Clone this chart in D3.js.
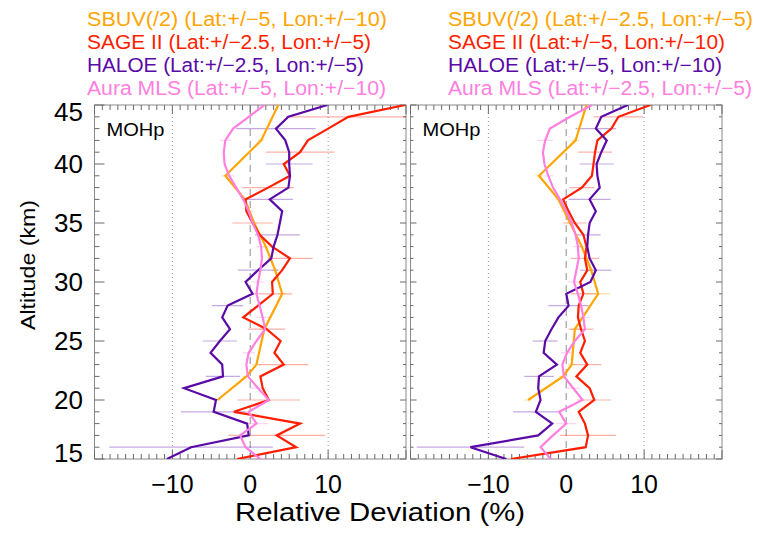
<!DOCTYPE html>
<meta charset="utf-8">
<head>
  <style>
    body { margin: 0; background: #fff; }
    text { font-family: "Liberation Sans", Arial, sans-serif; }
  </style>
  <script src="https://d3js.org/d3.v7.min.js"></script>
</head>
<body>
<div id="chart"></div>
<script>
// altitude grid (km) used by SAGE II, HALOE and Aura MLS
const altKm = [45, 44, 43, 42, 41, 40, 39, 38, 37, 36, 35, 34, 33, 32, 31, 30,
               29, 28, 27, 26, 25, 24, 23, 22, 21, 20, 19, 18, 17, 16, 15];
// SBUV(/2) levels
const sbuvAlt = [45, 42, 39, 37, 35, 33, 31, 29, 26, 23, 22, 20];

// left panel
const sbuvL = [3.6, 1.4, -3.2, -0.7, 0.5, 2.0, 3.2, 4.1, 1.8, 0.8, -0.5, -4.2];
const sageL = [19.9, 12.6, 10.0, 7.4, 6.4, 4.3, 5.1, 2.3, -0.6, -0.5, 0.3, 1.2, 2.8, 5.1, 4.1, 2.8,
               2.9, 1.0, -0.9, 2.1, 3.9, 3.1, 4.3, 1.3, 1.6, 2.4, -2.1, 6.4, 3.4, 5.9, -1.7];
const haloeL = [9.9, 4.9, 3.3, 4.5, 5.0, 5.0, 5.1, 4.9, 2.5, 4.1, 3.8, 3.5, 3.0, 2.7, 1.0, -0.6,
                0.3, -2.9, -3.6, -2.6, -3.9, -5.1, -3.6, -3.5, -8.5, -4.4, -4.7, -0.4, -0.2, -7.6, -10.7];
const mlsL = [1.8, -0.2, -2.2, -3.2, -3.4, -3.3, -2.7, -1.8, -0.9, -0.2, 0.3, 1.0, 1.4, 1.5, 1.3, 1.0,
              0.8, 1.2, 1.6, 1.9, 0.8, -0.2, -0.5, -0.3, 1.0, 2.4, -0.2, 0.8, -1.3, -0.6, 1.3];

// right panel
const sbuvR = [2.6, 1.2, -3.5, -1.0, 0.5, 2.0, 3.2, 4.1, 1.1, 0.7, -0.4, -4.9];
const sageR = [10.8, 6.7, 5.8, 4.0, 3.7, 3.5, 3.3, 2.0, -0.4, 0.3, 1.1, 2.2, 2.6, 2.4, 2.7, 1.8,
               2.2, 1.6, 1.5, 1.9, 2.4, 1.8, 2.7, 1.3, 3.0, 3.6, 1.6, 2.4, 2.8, 2.5, -7.1];
const haloeR = [7.9, 4.5, 3.8, 5.2, 4.5, 3.9, 4.0, 4.3, 3.0, 3.8, 3.0, 2.8, 2.7, 3.0, 3.8, 3.1,
                0.0, 0.3, -1.0, -1.9, -2.7, -2.9, -1.2, -3.5, -3.6, -3.3, -3.9, -1.8, -3.6, -12.3, -7.7];
const mlsR = [3.3, 0.5, -2.1, -2.7, -3.0, -2.8, -2.3, -1.7, -0.8, 0.0, 0.7, 1.2, 1.5, 1.6, 1.3, 1.0,
              1.5, 1.9, 2.2, 2.4, 1.1, 0.1, -0.5, -0.3, 0.9, 2.1, -0.9, 0.0, -1.7, -3.3, -2.0];

// error bars: altitudes and half widths (%)
const errAltSage = [44, 41, 38, 35, 32, 29, 26, 23, 20, 17];
const errSageL = [8.0, 4.4, 3.3, 2.6, 2.9, 2.5, 2.4, 3.2, 4.0, 6.2];
const errSageR = [3.2, 2.2, 1.6, 1.5, 1.8, 1.6, 1.6, 1.8, 2.2, 3.6];
const errAltHaloe = [43, 40, 37, 34, 31, 28, 25, 22, 19, 16];
const errHaloeL = [5.1, 3.0, 3.0, 2.9, 2.6, 2.0, 2.2, 2.2, 4.2, 10.5];
const errHaloeR = [2.6, 2.2, 2.7, 1.6, 2.0, 2.6, 1.6, 1.9, 2.9, 6.9];
const errAltMls = [45, 42, 39, 36, 33, 30, 27, 24, 21, 18, 15];
const errMlsL = [1.5, 0.7, 0.6, 0.5, 0.6, 0.8, 0.8, 0.8, 1.0, 1.5, 1.6];
const errMlsR = [1.8, 1.0, 0.6, 0.6, 0.6, 0.8, 0.8, 0.8, 1.0, 1.3, 2.5];
const errSbuvL = [0.4, 0.4, 0.5, 0.4, 0.4, 0.4, 0.4, 0.5, 0.5, 0.5, 0.5, 0.5];
const errSbuvR = [0.5, 0.5, 0.5, 0.4, 0.4, 0.4, 0.5, 1.6, 0.5, 0.5, 0.5, 0.5];

const legendL = ["SBUV(/2) (Lat:+/\u22125, Lon:+/\u221210)", "SAGE II (Lat:+/\u22122.5, Lon:+/\u22125)",
                 "HALOE (Lat:+/\u22122.5, Lon:+/\u22125)", "Aura MLS (Lat:+/\u22125, Lon:+/\u221210)"];
const legendR = ["SBUV(/2) (Lat:+/\u22122.5, Lon:+/\u22125)", "SAGE II (Lat:+/\u22125, Lon:+/\u221210)",
                 "HALOE (Lat:+/\u22125, Lon:+/\u221210)", "Aura MLS (Lat:+/\u22122.5, Lon:+/\u22125)"];
const legendWidthL = [300, 284, 277, 299];
const legendWidthR = [305, 277, 274, 304];

const xTickLabels = [-10, 0, 10];
const yTickLabels = [15, 20, 25, 30, 35, 40, 45];

const colors = ["#FFA500", "#FF1E00", "#5A0AA6", "#FF80E0"];

const svg = d3.select("#chart").append("svg")
    .attr("width", 766).attr("height", 537);

const y = d3.scaleLinear().domain([15, 45]).range([459, 105]);

const panels = [
    { left: 94.5, right: 406, legX: 87, legend: legendL, legW: legendWidthL,
      sbuv: sbuvL, sage: sageL, haloe: haloeL, mls: mlsL,
      eSbuv: errSbuvL, eSage: errSageL, eHaloe: errHaloeL, eMls: errMlsL, yLabels: true },
    { left: 410.5, right: 722, legX: 448, legend: legendR, legW: legendWidthR,
      sbuv: sbuvR, sage: sageR, haloe: haloeR, mls: mlsR,
      eSbuv: errSbuvR, eSage: errSageR, eHaloe: errHaloeR, eMls: errMlsR, yLabels: false }
];

panels.forEach((p, pi) => {
    const x = d3.scaleLinear().domain([-20, 20]).range([p.left, p.right]);
    const g = svg.append("g");

    g.append("clipPath").attr("id", "clip" + pi)
        .append("rect")
        .attr("x", p.left).attr("y", y(45))
        .attr("width", p.right - p.left).attr("height", y(15) - y(45));

    // grid lines
    g.selectAll(".grid").data([-10, 10]).enter().append("line")
        .attr("x1", d => x(d)).attr("x2", d => x(d))
        .attr("y1", y(45)).attr("y2", y(15))
        .attr("stroke", "#9a9a9a").attr("stroke-width", 1)
        .attr("stroke-dasharray", "1,3");
    g.append("line")
        .attr("x1", x(0)).attr("x2", x(0))
        .attr("y1", y(45)).attr("y2", y(15))
        .attr("stroke", "#a8a8a8").attr("stroke-width", 1.3)
        .attr("stroke-dasharray", "7,5");

    // frame
    g.append("rect")
        .attr("x", p.left).attr("y", y(45))
        .attr("width", p.right - p.left).attr("height", y(15) - y(45))
        .attr("fill", "none").attr("stroke", "#8a8a8a").attr("stroke-width", 1);

    // x minor / major ticks top and bottom
    x.ticks(40).forEach(t => {
        const len = (t % 10 === 0) ? 9 : 5;
        g.append("line").attr("x1", x(t)).attr("x2", x(t))
            .attr("y1", y(15)).attr("y2", y(15) - len)
            .attr("stroke", "#6a6a6a");
        g.append("line").attr("x1", x(t)).attr("x2", x(t))
            .attr("y1", y(45)).attr("y2", y(45) + len)
            .attr("stroke", "#6a6a6a");
    });
    // y ticks left and right
    y.ticks(30).forEach(t => {
        const major = (t % 5 === 0);
        const lenL = pi === 0 ? (major ? 10 : 5) : (major ? 6 : 3);
        const lenR = major ? 6 : 3;
        g.append("line").attr("x1", p.left).attr("x2", p.left + lenL)
            .attr("y1", y(t)).attr("y2", y(t)).attr("stroke", "#6a6a6a");
        g.append("line").attr("x1", p.right).attr("x2", p.right - lenR)
            .attr("y1", y(t)).attr("y2", y(t)).attr("stroke", "#6a6a6a");
    });

    // x tick labels
    g.selectAll(".xl").data(xTickLabels).enter().append("text")
        .attr("x", d => x(d)).attr("y", 493)
        .attr("text-anchor", "middle").attr("font-size", 25)
        .text(d => d < 0 ? "\u2212" + Math.abs(d) : d);

    if (p.yLabels) {
        g.selectAll(".yl").data(yTickLabels).enter().append("text")
            .attr("x", 83)
            .attr("y", d => y(d) + 9 + (d === 45 ? 7 : 0) + (d === 15 ? -6 : 0))
            .attr("text-anchor", "end").attr("font-size", 26)
            .text(d => d);
    }

    const plot = g.append("g").attr("clip-path", "url(#clip" + pi + ")");

    const series = [
        { alts: sbuvAlt, vals: p.sbuv, eAlts: sbuvAlt, eW: p.eSbuv, c: colors[0] },
        { alts: altKm, vals: p.sage, eAlts: errAltSage, eW: p.eSage, c: colors[1] },
        { alts: altKm, vals: p.haloe, eAlts: errAltHaloe, eW: p.eHaloe, c: colors[2] },
        { alts: altKm, vals: p.mls, eAlts: errAltMls, eW: p.eMls, c: colors[3] }
    ];

    // error bars
    series.forEach(s => {
        const bars = s.eAlts.map((a, i) => {
            const v = s.vals[s.alts.indexOf(a)];
            return { a: a, lo: v - s.eW[i], hi: v + s.eW[i] };
        });
        plot.selectAll(null).data(bars).enter().append("line")
            .attr("x1", d => x(d.lo)).attr("x2", d => x(d.hi))
            .attr("y1", d => y(d.a)).attr("y2", d => y(d.a))
            .attr("stroke", s.c).attr("stroke-opacity", 0.35).attr("stroke-width", 1.2);
    });

    const line = d3.line().x(d => x(d.v)).y(d => y(d.a));
    series.forEach(s => {
        plot.append("path")
            .datum(s.alts.map((a, i) => ({ a: a, v: s.vals[i] })))
            .attr("d", line)
            .attr("fill", "none").attr("stroke", s.c)
            .attr("stroke-width", 2.2).attr("stroke-linejoin", "miter");
    });

    g.append("text").attr("x", p.left + 12).attr("y", 136)
        .attr("font-size", 19)
        .attr("textLength", 58).attr("lengthAdjust", "spacingAndGlyphs")
        .text("MOHp");

    // legend
    g.selectAll(".leg").data(p.legend).enter().append("text")
        .attr("x", p.legX).attr("y", (d, i) => 26 + i * 23)
        .attr("font-size", 20)
        .attr("fill", (d, i) => colors[i])
        .attr("textLength", (d, i) => p.legW[i])
        .attr("lengthAdjust", "spacingAndGlyphs")
        .text(d => d);
});

svg.append("text").attr("x", 380).attr("y", 521)
    .attr("text-anchor", "middle").attr("font-size", 25)
    .attr("textLength", 290).attr("lengthAdjust", "spacingAndGlyphs")
    .text("Relative Deviation (%)");

svg.append("text")
    .attr("transform", "translate(35,265) rotate(-90)")
    .attr("text-anchor", "middle").attr("font-size", 21)
    .attr("textLength", 130).attr("lengthAdjust", "spacingAndGlyphs")
    .text("Altitude (km)");
</script>
</body>
